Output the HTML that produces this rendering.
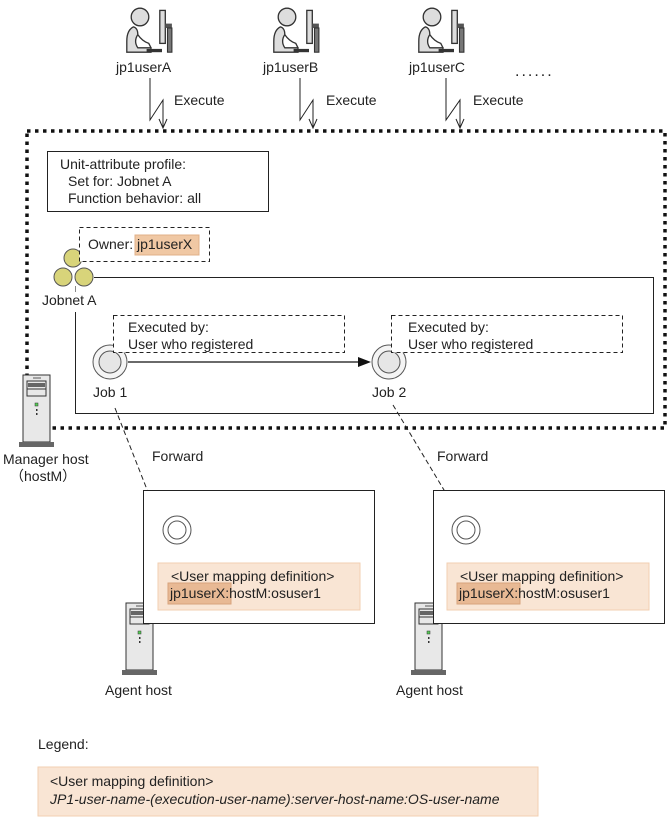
<!DOCTYPE html>
<html><head><meta charset="utf-8"><style>
html,body{margin:0;padding:0;background:#fff}
svg{display:block}
text{font-family:"Liberation Sans",Arial,sans-serif;font-size:14px;fill:#222}
</style></head><body>
<svg width="672" height="821" viewBox="0 0 672 821" xmlns="http://www.w3.org/2000/svg">
<defs>
<g id="user">
  <circle cx="0" cy="0" r="8" fill="#ddd" stroke="#333" stroke-width="1.2"/>
  <path d="M-6,9 Q-12,12 -12,22 L-12,32 L10,32 L10,28 L-2,28 Q-6,22 -2,16 Q-2,10 -6,9 Z" fill="#ddd" stroke="#333" stroke-width="1.2"/>
  <path d="M-2,16 Q2,22 8,24 L10,28" fill="none" stroke="#333" stroke-width="1.2"/>
  <rect x="6" y="29" width="14" height="3" fill="#333"/>
  <rect x="18" y="-6" width="5" height="30" fill="#ddd" stroke="#333" stroke-width="1.2"/>
  <rect x="23" y="6" width="6" height="4" fill="#555"/>
  <rect x="25" y="10" width="4" height="22" fill="#777" stroke="#333" stroke-width="1"/>
</g>
<g id="server">
  <rect x="0" y="0" width="27" height="67" fill="#e8e8e8" stroke="#333" stroke-width="1"/>
  <line x1="10" y1="3" x2="18" y2="3" stroke="#888" stroke-width="1.5"/>
  <rect x="4" y="6" width="19" height="15" fill="#e8e8e8" stroke="#333" stroke-width="1"/>
  <rect x="5" y="8" width="17" height="4" fill="#666"/>
  <line x1="4" y1="14" x2="23" y2="14" stroke="#333"/>
  <rect x="12" y="28" width="3" height="3" fill="#5c5" stroke="#333" stroke-width=".5"/>
  <rect x="13" y="34" width="1.5" height="2" fill="#333"/>
  <rect x="13" y="38" width="1.5" height="2" fill="#333"/>
  <rect x="-4" y="67" width="35" height="5" fill="#666"/>
</g>
</defs>

<!-- users -->
<g transform="translate(140,17) scale(1.1)"><use href="#user"/></g>
<g transform="translate(287,17) scale(1.1)"><use href="#user"/></g>
<g transform="translate(432,17) scale(1.1)"><use href="#user"/></g>
<text x="116" y="72">jp1userA</text>
<text x="263" y="72">jp1userB</text>
<text x="409" y="72">jp1userC</text>
<text x="515" y="76" style="font-size:16px;letter-spacing:2px">......</text>

<!-- lightning arrows -->
<g fill="none" stroke="#222" stroke-width="1">
<path d="M150,78 L150,120 L163,100 L163,128"/>
<path d="M159,119 L163,128 L167,119"/>
<path d="M300,78 L300,120 L313,100 L313,128"/>
<path d="M309,119 L313,128 L317,119"/>
<path d="M446,78 L446,120 L460,100 L460,128"/>
<path d="M456,119 L460,128 L464,119"/>
</g>
<text x="174" y="105">Execute</text>
<text x="326" y="105">Execute</text>
<text x="473" y="105">Execute</text>

<!-- dotted area -->
<rect x="27" y="131" width="638" height="297" fill="none" stroke="#111" stroke-width="3.5" stroke-dasharray="3.5 4.5"/>

<!-- profile -->
<rect x="47.5" y="151.5" width="221" height="60" fill="#fff" stroke="#222"/>
<text x="60" y="169">Unit-attribute profile:</text>
<text x="68" y="186">Set for: Jobnet A</text>
<text x="68" y="203">Function behavior: all</text>

<!-- jobnet box -->
<path d="M94,277.5 L653.5,277.5 L653.5,413.5 L75.5,413.5 L75.5,312" fill="none" stroke="#222"/>
<line x1="75.5" y1="286" x2="75.5" y2="292" stroke="#888"/>
<circle cx="73" cy="258" r="9" fill="#d8d47a" stroke="#555"/>
<circle cx="63" cy="277" r="9" fill="#d8d47a" stroke="#555"/>
<circle cx="84" cy="277" r="9" fill="#d8d47a" stroke="#555"/>
<rect x="79.5" y="227.5" width="130" height="34" fill="#fff" stroke="#222" stroke-dasharray="4 3"/>
<text x="88" y="249">Owner:</text>
<rect x="135" y="235" width="64" height="20" fill="#f0c8a4" stroke="#e0b088"/>
<text x="137" y="249">jp1userX</text>
<text x="42" y="305">Jobnet A</text>

<!-- jobs -->
<line x1="128" y1="362" x2="360" y2="362" stroke="#111" stroke-width="1.2"/>
<path d="M358,357 L371,362 L358,367 Z" fill="#111"/>
<circle cx="110" cy="362" r="17" fill="#f4f4f4" stroke="#555"/>
<circle cx="110" cy="362" r="11" fill="#e6e6e6" stroke="#555"/>
<circle cx="389" cy="362" r="17" fill="#f4f4f4" stroke="#555"/>
<circle cx="389" cy="362" r="11" fill="#e6e6e6" stroke="#555"/>
<rect x="113.5" y="315.5" width="231" height="37" fill="#fff" stroke="#222" stroke-dasharray="4 3"/>
<text x="128" y="332">Executed by:</text>
<text x="128" y="349">User who registered</text>
<rect x="391.5" y="315.5" width="231" height="37" fill="#fff" stroke="#222" stroke-dasharray="4 3"/>
<text x="408" y="332">Executed by:</text>
<text x="408" y="349">User who registered</text>
<text x="93" y="397">Job 1</text>
<text x="372" y="397">Job 2</text>

<!-- manager host -->
<use href="#server" x="23" y="375"/>
<text x="3" y="464">Manager host</text>
<text x="10" y="481">（hostM）</text>

<!-- forward -->
<g fill="none" stroke="#222">
<line x1="115" y1="408" x2="157" y2="515" stroke-dasharray="5 3"/>
<path d="M150,509 L157,515 L158,506"/>
<line x1="393" y1="405" x2="459" y2="515" stroke-dasharray="5 3"/>
<path d="M452,510 L459,515 L459,506"/>
</g>
<text x="152" y="461">Forward</text>
<text x="437" y="461">Forward</text>

<!-- agents -->
<use href="#server" x="126" y="603"/>
<use href="#server" x="415" y="603"/>
<rect x="143.5" y="490.5" width="231" height="133" fill="#fff" stroke="#222"/>
<rect x="433.5" y="490.5" width="231" height="133" fill="#fff" stroke="#222"/>
<circle cx="177" cy="530" r="14" fill="#fff" stroke="#555"/>
<circle cx="177" cy="530" r="9" fill="#fff" stroke="#555"/>
<circle cx="466" cy="530" r="14" fill="#fff" stroke="#555"/>
<circle cx="466" cy="530" r="9" fill="#fff" stroke="#555"/>
<rect x="158" y="563" width="202" height="47" fill="#f9e5d4" stroke="#f2cfb2"/>
<rect x="447" y="563" width="202" height="47" fill="#f9e5d4" stroke="#f2cfb2"/>
<rect x="168" y="583" width="63" height="21" fill="#e8b994" stroke="#d8a47c"/>
<rect x="457" y="583" width="63" height="21" fill="#e8b994" stroke="#d8a47c"/>
<text x="171" y="581">&lt;User mapping definition&gt;</text>
<text x="170" y="598">jp1userX:hostM:osuser1</text>
<text x="460" y="581">&lt;User mapping definition&gt;</text>
<text x="459" y="598">jp1userX:hostM:osuser1</text>
<text x="105" y="695">Agent host</text>
<text x="396" y="695">Agent host</text>

<!-- legend -->
<text x="38" y="749">Legend:</text>
<rect x="38" y="767" width="500" height="49" fill="#f9e5d4" stroke="#f2cfb2"/>
<text x="50" y="786">&lt;User mapping definition&gt;</text>
<text x="50" y="804" style="font-style:italic">JP1-user-name-(execution-user-name):server-host-name:OS-user-name</text>
</svg>
</body></html>
